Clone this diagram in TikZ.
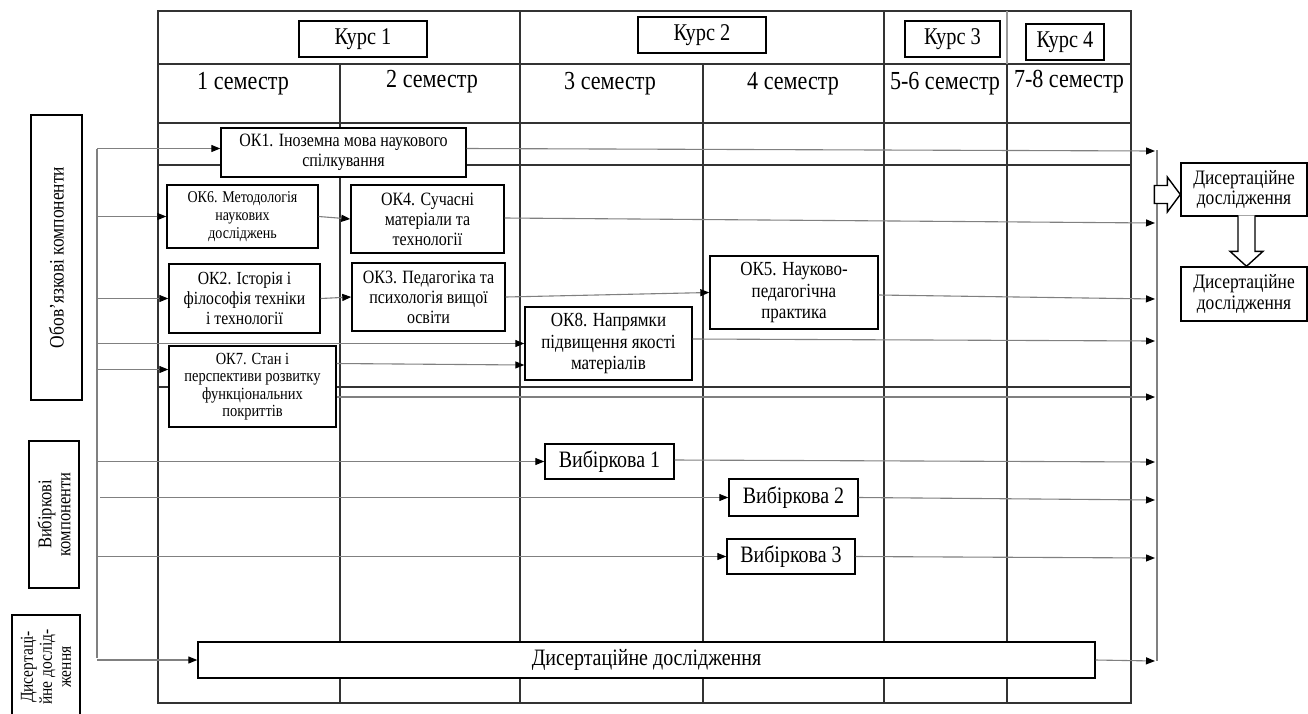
\documentclass[tikz,border=0pt]{standalone}
\usepackage{fontspec}
\setmainfont{Liberation Serif}[FakeStretch=0.85]
\usetikzlibrary{arrows.meta,calc}

\begin{document}
\begin{tikzpicture}[x=1pt,y=-1pt,
    grid/.style={line width=1.2pt,black!80},
    box/.style={draw,line width=1.4pt,fill=white,align=center,inner sep=1pt},
    conn/.style={line width=1.1pt,black!50},
    arr/.style={conn,-{Triangle[length=9pt,width=7pt,color=black]}},
    hollow/.style={draw,line width=1.4pt,fill=white},
    headtxt/.style={font=\fontsize{24}{26}\selectfont},
    semtxt/.style={font=\fontsize{26}{28}\selectfont},
    bodytxt/.style={font=\fontsize{18.8}{20}\selectfont},
    bigtxt/.style={font=\fontsize{20}{21.5}\selectfont},
    smalltxt/.style={font=\fontsize{16.5}{18}\selectfont}]
    \clip (0,0) rectangle (1308,713);
    % table
    \draw[grid] (158,11) rectangle (1131,703);
    \draw[grid] (158,64) -- (1131,64) (158,123) -- (1131,123) (158,165) -- (1131,165) (158,387) -- (1131,387);
    \draw[grid] (520,11) -- (520,703) (884,11) -- (884,703) (1007,64) -- (1007,703);
    \draw[grid,black!40] (1007,11) -- (1007,64);
    \draw[grid] (340,64) -- (340,703) (703,64) -- (703,703);
    % courses and semesters
    \node[box,headtxt,minimum width=128pt,minimum height=36pt] (k1) at (363,39) {Курс 1};
    \node[box,headtxt,minimum width=128pt,minimum height=36pt] (k2) at (702,35) {Курс 2};
    \node[box,headtxt,minimum width=95pt,minimum height=36pt] (k3) at (952.5,39) {Курс 3};
    \node[box,headtxt,minimum width=78pt,minimum height=36pt] (k4) at (1065,42) {Курс 4};
    \node[semtxt] (s1) at (243,84) {1 семестр};
    \node[semtxt] (s2) at (432,82) {2 семестр};
    \node[semtxt] (s3) at (610,84) {3 семестр};
    \node[semtxt] (s4) at (793,84) {4 семестр};
    \node[semtxt] (s5) at (945,84) {5-6 семестр};
    \node[semtxt] (s6) at (1069,82) {7-8 семестр};
    % components
    \node[box,bodytxt,minimum width=245pt,minimum height=49pt] (ok1) at (343.5,152.5) {ОК1. Іноземна мова наукового\\спілкування};
    \node[box,smalltxt,minimum width=151pt,minimum height=63pt] (ok6) at (242.5,216.5) {ОК6. Методологія\\наукових\\досліджень};
    \node[box,bodytxt,minimum width=153pt,minimum height=68pt] (ok4) at (427.5,219) {ОК4. Сучасні\\матеріали та\\технології};
    \node[box,font=\fontsize{18.5}{20}\selectfont,minimum width=151pt,minimum height=69pt] (ok2) at (244.5,298.5) {ОК2. Історія і\\філософія техніки\\і технології};
    \node[box,bodytxt,minimum width=153pt,minimum height=68pt] (ok3) at (428.5,297) {ОК3. Педагогіка та\\психологія вищої\\освіти};
    \node[box,bigtxt,minimum width=168pt,minimum height=73pt] (ok5) at (794,292.5) {ОК5. Науково-\\педагогічна\\практика};
    \node[box,bigtxt,minimum width=167pt,minimum height=73pt] (ok8) at (608.5,343.5) {ОК8. Напрямки\\підвищення якості\\матеріалів};
    \node[box,font=\fontsize{17}{17.5}\selectfont,minimum width=167pt,minimum height=81pt] (ok7) at (252.5,386.5) {ОК7. Стан і\\перспективи розвитку\\функціональних\\покриттів};
    \node[box,font=\fontsize{23.5}{24}\selectfont,minimum width=129pt,minimum height=35pt] (vib1) at (609.5,461.5) {Вибіркова 1};
    \node[box,font=\fontsize{23.5}{24}\selectfont,minimum width=129pt,minimum height=37pt] (vib2) at (793.5,497.5) {Вибіркова 2};
    \node[box,font=\fontsize{23.5}{24}\selectfont,minimum width=128pt,minimum height=35pt] (vib3) at (791,556.5) {Вибіркова 3};
    \node[box,font=\fontsize{23.5}{24}\selectfont,minimum width=897pt,minimum height=36pt] (dis) at (646.5,660) {Дисертаційне дослідження};
    \node[box,font=\fontsize{20.5}{20.5}\selectfont,minimum width=126pt,minimum height=53pt] (res1) at (1244,189.5) {Дисертаційне\\дослідження};
    \node[box,font=\fontsize{20.5}{20.5}\selectfont,minimum width=126pt,minimum height=54pt] (res2) at (1244,294) {Дисертаційне\\дослідження};
    % side labels
    \node[box,rotate=90,font=\fontsize{20.5}{20}\selectfont,minimum width=285pt,minimum height=51pt] (lab1) at (56.5,257.5) {Обов’язкові компоненти};
    \node[box,rotate=90,font=\fontsize{19.4}{19}\selectfont,minimum width=147pt,minimum height=50pt] (lab2) at (54,514.5) {Вибіркові\\компоненти};
    \node[box,rotate=90,font=\fontsize{18.2}{19}\selectfont,minimum width=104pt,minimum height=68pt] (lab3) at (46,667) {Дисертаці-\\йне дослід-\\ження};
    % left bus
    \coordinate (bus) at (97,0);
    \draw[conn] (97,148.5) -- (97,658);
    \draw[arr] (bus |- ok1.west) ++(0,-4) -- ([yshift=4pt]ok1.west);
    \draw[arr] (bus |- ok6.west) -- (ok6.west);
    \draw[arr] (bus |- ok2.west) -- (ok2.west);
    \draw[arr] (bus |- ok8.west) -- (ok8.west);
    \draw[arr] (bus |- ok7.west) ++(0,-17) -- ([yshift=17pt]ok7.west);
    \draw[arr] (bus |- vib1.west) -- (vib1.west);
    \draw[arr] ([xshift=3pt]bus |- vib2.west) -- (vib2.west);
    \draw[arr] (bus |- vib3.west) -- (vib3.west);
    \draw[arr] (bus |- dis.west) -- (dis.west);
    % between components
    \draw[arr] (ok6.east) -- (ok4.west);
    \draw[arr] (ok2.east) -- (ok3.west);
    \draw[arr] (ok3.east) -- (ok5.west);
    \draw[arr] ([yshift=23pt]ok7.east) -- ([yshift=-21.5pt]ok8.west);
    % right bus
    \coordinate (e1) at (1155,151);
    \coordinate (e2) at (1155,223);
    \coordinate (e3) at (1155,299);
    \coordinate (e4) at (1155,341);
    \coordinate (e5) at (1155,397);
    \coordinate (e6) at (1155,462);
    \coordinate (e7) at (1155,500);
    \coordinate (e8) at (1155,558);
    \coordinate (e9) at (1155,661);
    \draw[conn] (1157,150) -- (1157,661);
    \draw[arr] ([yshift=4pt]ok1.east) -- (e1);
    \draw[arr] ([yshift=1pt]ok4.east) -- (e2);
    \draw[arr] ([yshift=-2.5pt]ok5.east) -- (e3);
    \draw[arr] ([yshift=4.5pt]ok8.east) -- (e4);
    \draw[arr] ([yshift=-10.5pt]ok7.east) -- (e5);
    \draw[arr] ([yshift=1.5pt]vib1.east) -- (e6);
    \draw[arr] (vib2.east) -- (e7);
    \draw[arr] (vib3.east) -- (e8);
    \draw[arr] (dis.east) -- (e9);
    % hollow arrows
    \coordinate (ha) at ($(res1.west)+(0,5)$);
    \draw[hollow] ($(ha)+(-26,-9)$) -- ($(ha)+(-13,-9)$) -- ($(ha)+(-13,-17.5)$) -- (ha)
        -- ($(ha)+(-13,17.5)$) -- ($(ha)+(-13,9)$) -- ($(ha)+(-26,9)$) -- cycle;
    \coordinate (hb) at ($(res2.north)+(2.5,0)$);
    \draw[hollow] ($(hb)+(-8.5,-51)$) -- ($(hb)+(-8.5,-15)$) -- ($(hb)+(-16.5,-15)$) -- (hb)
        -- ($(hb)+(16.5,-15)$) -- ($(hb)+(8.5,-15)$) -- ($(hb)+(8.5,-51)$);
\end{tikzpicture}
\end{document}
